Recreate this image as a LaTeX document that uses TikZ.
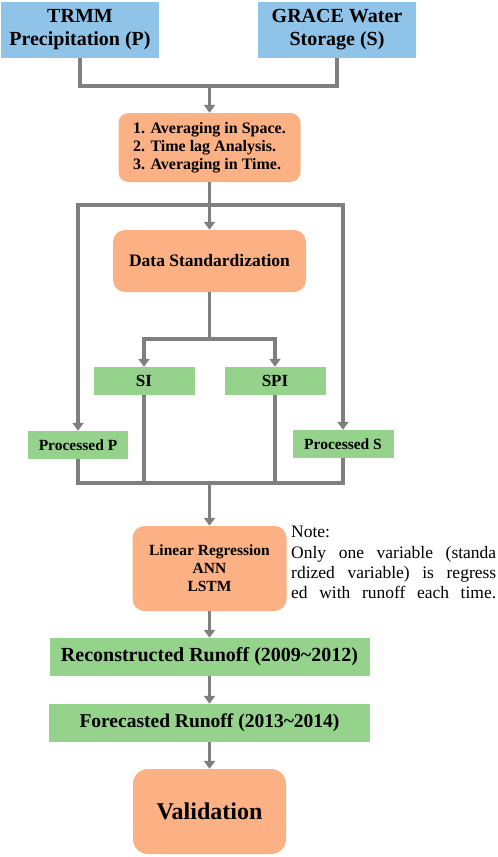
\documentclass[tikz,border=0pt]{standalone}
\usepackage{fontspec}
\setmainfont{Liberation Serif}
\usetikzlibrary{arrows.meta}
\definecolor{boxblue}{RGB}{143,196,232}
\definecolor{boxorange}{RGB}{251,177,131}
\definecolor{boxgreen}{RGB}{149,210,139}
\definecolor{linegray}{RGB}{127,127,127}
\begin{document}
\begin{tikzpicture}[x=1pt,y=-1pt,
  bluebox/.style={rectangle,fill=boxblue,inner sep=0pt,align=center,font=\fontsize{20}{23}\selectfont\bfseries},
  orangebox/.style={rectangle,rounded corners=11pt,fill=boxorange,inner sep=0pt,align=center},
  greenbox/.style={rectangle,fill=boxgreen,inner sep=0pt,align=center,font=\bfseries},
  conn/.style={draw=linegray,line width=3.5pt},
  arr/.style={conn,-{Triangle[length=8pt,width=11pt]}},
  notetext/.style={anchor=base west,inner sep=0pt,font=\fontsize{17.5}{20}\selectfont}
]
\useasboundingbox (0,0) rectangle (498,857);
\node[bluebox,minimum width=158pt,minimum height=56pt] (trmm) at (80,30) {TRMM\\Precipitation (P)};
\node[bluebox,minimum width=158pt,minimum height=56pt] (grace) at (337,30) {GRACE Water\\Storage (S)};
\node[orangebox,minimum width=182pt,minimum height=69pt,rounded corners=10pt,align=left,font=\fontsize{16}{18}\selectfont\bfseries] (pre) at (209.5,147.5) {1. Averaging in Space.\\2. Time lag Analysis.\\3. Averaging in Time.};
\node[orangebox,minimum width=193pt,minimum height=62pt,rounded corners=12pt,font=\fontsize{17.5}{20}\selectfont\bfseries] (ds) at (209.5,261) {Data Standardization};
\node[greenbox,minimum width=101pt,minimum height=28pt,font=\fontsize{17}{20}\selectfont\bfseries] (si) at (144,381) {SI};
\node[greenbox,minimum width=101pt,minimum height=28pt,font=\fontsize{17}{20}\selectfont\bfseries] (spi) at (275,381) {SPI};
\node[greenbox,minimum width=100pt,minimum height=28pt,font=\fontsize{15.5}{18}\selectfont\bfseries] (pp) at (78,445) {Processed P};
\node[greenbox,minimum width=101pt,minimum height=28pt,font=\fontsize{15.5}{18}\selectfont\bfseries] (ps) at (343,444) {Processed S};
\node[orangebox,minimum width=154pt,minimum height=85pt,rounded corners=12pt,font=\fontsize{15.5}{18}\selectfont\bfseries] (lr) at (209.5,568.5) {Linear Regression\\ANN\\LSTM};
\node[greenbox,minimum width=320pt,minimum height=38pt,font=\fontsize{20}{23}\selectfont\bfseries] (rec) at (209.5,657) {Reconstructed Runoff (2009\textasciitilde 2012)};
\node[greenbox,minimum width=321pt,minimum height=38pt,font=\fontsize{19.5}{23}\selectfont\bfseries] (fore) at (209.5,723) {Forecasted Runoff (2013\textasciitilde 2014)};
\node[orangebox,minimum width=153pt,minimum height=85pt,rounded corners=15pt,font=\fontsize{24}{28}\selectfont\bfseries] (val) at (209.5,811.5) {Validation};
\node[notetext] (n1) at (291,537) {Note:};
\node[notetext] (n2) at (291,558) {\makebox[205pt][s]{Only one variable (standa}};
\node[notetext] (n3) at (291,578) {\makebox[205pt][s]{rdized variable) is regress}};
\node[notetext] (n4) at (291,598) {\makebox[205pt][s]{ed with runoff each time.}};
\coordinate (j1) at (209.5,86);
\coordinate (j2) at (209.5,205);
\coordinate (j3) at (209.5,339);
\coordinate (j4) at (209.5,483);
\draw[conn] (trmm.south) |- (j1) -| (grace.south);
\draw[arr] (j1) -- (pre.north);
\draw[conn] (pre.south) -- (j2);
\draw[arr] (j2) -- (ds.north);
\draw[arr] (j2) -| (pp.north);
\draw[arr] (j2) -| (ps.north);
\draw[conn] (ds.south) -- (j3);
\draw[arr] (j3) -| (si.north);
\draw[arr] (j3) -| (spi.north);
\draw[conn] (pp.south) |- (j4) -| (ps.south);
\draw[conn] (si.south) -- (si.south |- j4);
\draw[conn] (spi.south) -- (spi.south |- j4);
\draw[arr] (j4) -- (lr.north);
\draw[arr] (lr.south) -- (rec.north);
\draw[arr] (rec.south) -- (fore.north);
\draw[arr] (fore.south) -- (val.north);
\end{tikzpicture}
\end{document}
